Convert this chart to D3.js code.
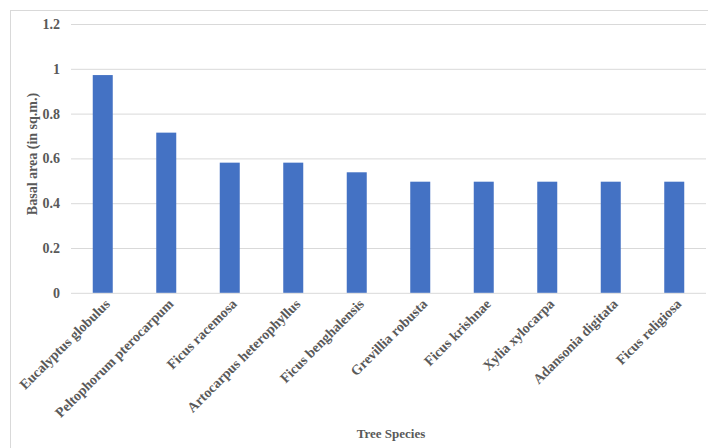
<!DOCTYPE html>
<html>
<head>
<meta charset="utf-8">
<script src="https://cdn.jsdelivr.net/npm/d3@7"></script>
<style>
  body { margin: 0; background: #fff; }
  text { font-family: "Liberation Serif", "Times New Roman", serif; font-weight: bold; fill: #595959; }
</style>
</head>
<body>
<svg id="chart" width="708" height="448"></svg>
<script>
// species along the x axis
const species = [
    'Eucalyptus globulus', 'Peltophorum pterocarpum', 'Ficus racemosa',
    'Artocarpus heterophyllus', 'Ficus benghalensis', 'Grevillia robusta',
    'Ficus krishnae', 'Xylia xylocarpa', 'Adansonia digitata', 'Ficus religiosa'
];
// basal area, sq.m.
const basalArea = [0.972, 0.715, 0.581, 0.581, 0.538, 0.496, 0.496, 0.496, 0.496, 0.496];
const yTicks = [0, 0.2, 0.4, 0.6, 0.8, 1, 1.2];

const svg = d3.select('#chart');
const plotLeft = 71, plotRight = 706, plotTop = 24, plotBottom = 292.8;

// outer chart frame
svg.append('rect')
    .attr('x', 10.5).attr('y', 10.5)
    .attr('width', 740).attr('height', 480)
    .attr('fill', 'none')
    .attr('stroke', '#d9d9d9');

const x = d3.scaleBand()
    .domain(species)
    .range([plotLeft, plotRight])
    .paddingInner(0.685)
    .paddingOuter(0.3425);

const y = d3.scaleLinear()
    .domain([0, 1.2])
    .range([plotBottom, plotTop]);

// grid
svg.append('g')
    .attr('transform', `translate(${plotLeft},0)`)
    .call(d3.axisLeft(y).tickValues(yTicks).tickSize(-(plotRight - plotLeft)).tickFormat(''))
    .call(g => g.select('.domain').remove())
    .call(g => g.selectAll('line').attr('stroke', '#d9d9d9'));

// y tick labels
svg.append('g')
    .attr('transform', `translate(${plotLeft - 11},0)`)
    .call(d3.axisLeft(y).tickValues(yTicks).tickSize(0).tickPadding(0).tickFormat(d3.format('')))
    .call(g => g.select('.domain').remove())
    .call(g => g.selectAll('text')
        .attr('font-size', 14)
        .style('font-family', '"Liberation Serif", serif')
        .attr('fill', '#595959'));

// bars
svg.append('g').selectAll('rect')
    .data(species)
    .enter()
    .append('rect')
    .attr('x', (d) => x(d))
    .attr('y', (d, i) => y(basalArea[i]))
    .attr('width', x.bandwidth())
    .attr('height', (d, i) => plotBottom - y(basalArea[i]))
    .attr('fill', '#4472C4');

// x labels, rotated
svg.append('g')
    .attr('transform', `translate(0,${plotBottom})`)
    .call(d3.axisBottom(x).tickSize(0).tickPadding(0))
    .call(g => g.select('.domain').remove())
    .selectAll('text')
    .attr('font-size', 14)
    .style('font-family', '"Liberation Serif", serif')
    .attr('fill', '#595959')
    .style('text-anchor', 'end')
    .attr('dx', 0)
    .attr('dy', 0)
    .attr('transform', 'translate(8,12) rotate(-45)');

// axis titles
svg.append('text')
    .attr('x', 391)
    .attr('y', 438)
    .attr('text-anchor', 'middle')
    .attr('font-size', 13)
    .text('Tree Species');

svg.append('text')
    .attr('transform', 'translate(37,154) rotate(-90)')
    .attr('text-anchor', 'middle')
    .attr('font-size', 14)
    .text('Basal area (in sq.m.)');
</script>
</body>
</html>
